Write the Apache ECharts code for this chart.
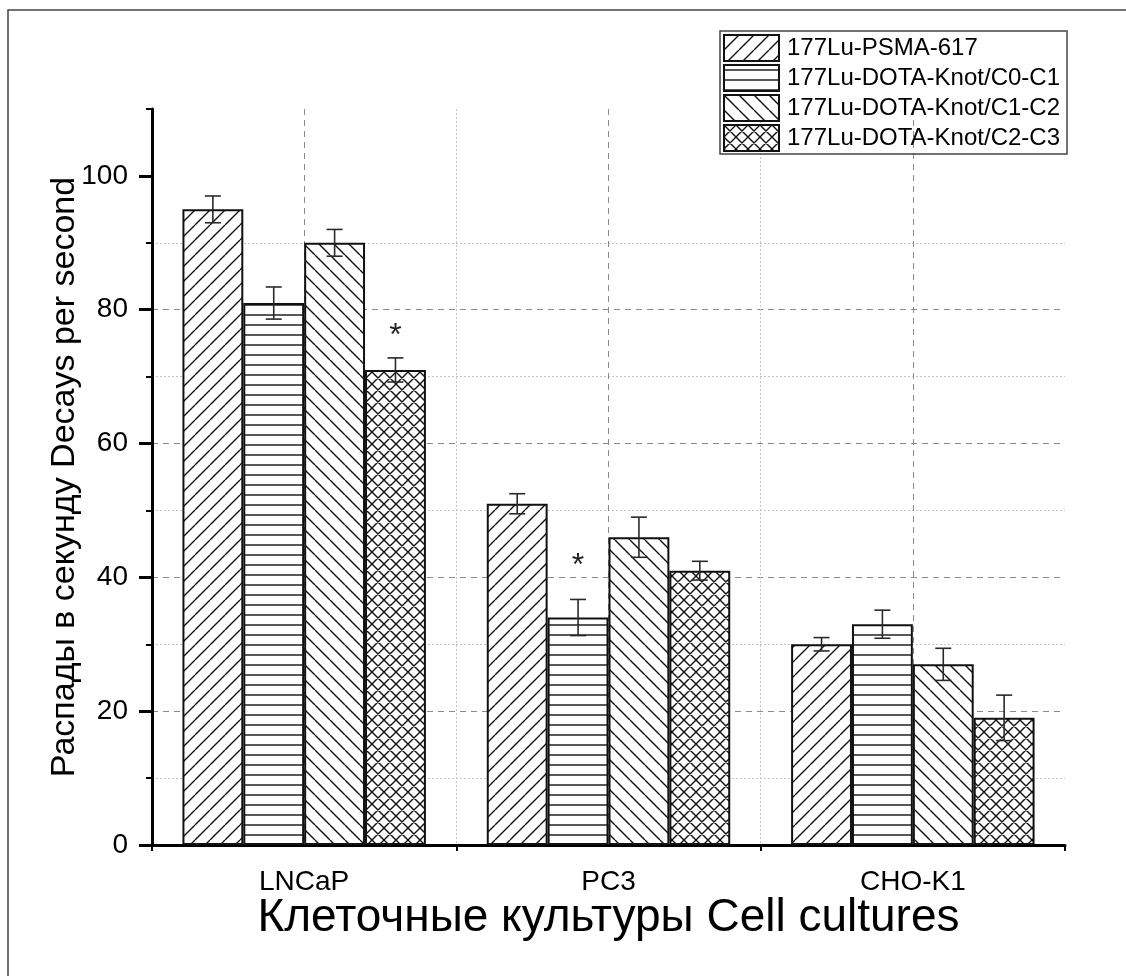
<!DOCTYPE html>
<html>
<head>
<meta charset="utf-8">
<script src="https://cdn.jsdelivr.net/npm/echarts@6/dist/echarts.min.js"></script>
<style>
  html, body { margin: 0; padding: 0; background: #fff; }
  #main { width: 1126px; height: 976px; }
</style>
</head>
<body>
<div id="main"></div>
<script type="text/javascript">
// data
var cats = ['LNCaP', 'PC3', 'CHO-K1'];
var names = ['177Lu-PSMA-617', '177Lu-DOTA-Knot/C0-C1', '177Lu-DOTA-Knot/C1-C2', '177Lu-DOTA-Knot/C2-C3'];
var psma = [95, 51, 30];
var psmaErr = [2, 1.5, 1];
var c0c1 = [81, 34, 33];
var c0c1Err = [2.4, 2.7, 2.1];
var c1c2 = [90, 46, 27];
var c1c2Err = [2, 3, 2.4];
var c2c3 = [71, 41, 19];
var c2c3Err = [1.8, 1.4, 3.4];
// significance marks: [series, category, height of the mark]
var stars = [[3, 0, 77], [1, 1, 42.5]];
var yTicks = [0, 20, 40, 60, 80, 100];
// half-band steps across the x axis (used for the grid lines between/at categories)
var halfSteps = ['0', '1', '2', '3', '4', '5', '6'];

var FONT = 'Liberation Sans, Arial, sans-serif';

// hatch fills
function hatch(kind) {
    var s = kind === 'h' ? 10 : (kind === 'x' ? 12 : 15);
    var c = document.createElement('canvas');
    c.width = s; c.height = s;
    var g = c.getContext('2d');
    g.fillStyle = '#fff';
    g.fillRect(0, 0, s, s);
    g.strokeStyle = '#111';
    g.lineWidth = 1.4;
    g.beginPath();
    if (kind === 'h') {
        g.moveTo(0, s / 2); g.lineTo(s, s / 2);
    }
    if (kind === '/' || kind === 'x') {
        for (var i = -1; i <= 1; i++) { g.moveTo(i * s, s); g.lineTo(i * s + s, 0); }
    }
    if (kind === '\\' || kind === 'x') {
        for (var j = -1; j <= 1; j++) { g.moveTo(j * s, 0); g.lineTo(j * s + s, s); }
    }
    g.stroke();
    return { image: c, repeat: 'repeat' };
}

var values = [psma, c0c1, c1c2, c2c3];
var errs = [psmaErr, c0c1Err, c1c2Err, c2c3Err];
var fills = [hatch('/'), hatch('h'), hatch('\\'), hatch('x')];

var series = [];
for (var s = 0; s < 4; s++) {
    series.push({
        name: names[s],
        type: 'bar',
        xAxisIndex: 0,
        yAxisIndex: 1,
        barGap: '0%',
        barCategoryGap: '20%',
        data: values[s],
        itemStyle: { color: fills[s], borderColor: '#111', borderWidth: 2 },
        emphasis: { disabled: true }
    });
}

// error bars + asterisks
var errData = [];
for (var k = 0; k < 4; k++) {
    for (var ci = 0; ci < cats.length; ci++) {
        var sv = -1;
        stars.forEach(function (p) { if (p[0] === k && p[1] === ci) sv = p[2]; });
        errData.push([ci, values[k][ci], errs[k][ci], k, sv]);
    }
}
series.push({
    type: 'custom',
    xAxisIndex: 0,
    yAxisIndex: 1,
    z: 5,
    silent: true,
    encode: { x: 0, y: 1 },
    data: errData,
    renderItem: function (params, api) {
        var ci = api.value(0), v = api.value(1), e = api.value(2), si = api.value(3), sv = api.value(4);
        var band = api.size([1, 0])[0];
        var bw = band * 0.8 / 4;
        var x = api.coord([ci, v])[0] + (si - 1.5) * bw;
        var top = api.coord([ci, v + e])[1];
        var bot = api.coord([ci, v - e])[1];
        var cap = 8;
        var ls = { stroke: '#2a2a2a', lineWidth: 1.6 };
        var kids = [
            { type: 'line', shape: { x1: x, y1: top, x2: x, y2: bot }, style: ls },
            { type: 'line', shape: { x1: x - cap, y1: top, x2: x + cap, y2: top }, style: ls },
            { type: 'line', shape: { x1: x - cap, y1: bot, x2: x + cap, y2: bot }, style: ls }
        ];
        if (sv >= 0) {
            kids.push({
                type: 'text',
                style: { text: '*', x: x, y: api.coord([ci, sv])[1] + 6, align: 'center', verticalAlign: 'middle',
                    fontSize: 32, fontFamily: FONT, fill: '#222' }
            });
        }
        return { type: 'group', children: kids };
    }
});

var chart = echarts.init(document.getElementById('main'));
chart.setOption({
    backgroundColor: '#fff',
    animation: false,
    textStyle: { fontFamily: FONT },
    grid: { left: 152, right: 61, top: 109, bottom: 131 },
    legend: {
        data: names,
        orient: 'vertical',
        right: 59,
        top: 31,
        icon: 'rect',
        itemWidth: 55,
        itemHeight: 26,
        itemGap: 2,
        padding: [3, 7, 2, 3],
        borderColor: '#444',
        borderWidth: 1.5,
        selectedMode: false,
        textStyle: { fontSize: 24, lineHeight: 28, color: '#000', fontFamily: FONT, padding: [0, 0, 0, 3] }
    },
    xAxis: [
        {
            type: 'category',
            data: cats,
            position: 'bottom',
            axisLine: { onZero: false, lineStyle: { color: '#000', width: 3 } },
            axisTick: { alignWithLabel: true, length: 12, lineStyle: { color: '#000', width: 2.5 } },
            axisLabel: { fontSize: 28, color: '#000', margin: 23 },
            splitLine: { show: false },
            name: 'Клеточные культуры Cell cultures',
            nameLocation: 'middle',
            nameMoveOverlap: false,
            nameGap: 50,
            nameTextStyle: { fontSize: 46, color: '#000' }
        },
        {
            // dashed lines at category centres
            type: 'category', data: halfSteps, boundaryGap: false, position: 'bottom',
            axisLine: { show: false, onZero: false }, axisTick: { show: false }, axisLabel: { show: false },
            splitLine: { show: true, interval: function (i) { return i % 2 === 1; },
                lineStyle: { type: [6, 5], color: '#8a8a8a', width: 1 } }
        },
        {
            // dotted lines + short ticks at category boundaries
            type: 'category', data: halfSteps, boundaryGap: false, position: 'bottom',
            axisLine: { show: false, onZero: false },
            axisTick: { show: true, length: 6, interval: function (i) { return i % 2 === 0; },
                lineStyle: { color: '#000', width: 2 } },
            axisLabel: { show: false },
            splitLine: { show: true, interval: function (i) { return i === 2 || i === 4; },
                lineStyle: { type: [2, 2], color: '#c4c4c4', width: 1 } }
        }
    ],
    yAxis: [
        {
            type: 'value', min: 0, max: 110, interval: 10, position: 'left',
            axisLine: { show: false, onZero: false },
            axisTick: { show: true, length: 6, lineStyle: { color: '#000', width: 2 } },
            axisLabel: { show: false },
            splitLine: { show: false }
        },
        {
            type: 'value', min: 0, max: 110, interval: 20, position: 'left',
            axisLine: { show: true, onZero: false, lineStyle: { color: '#000', width: 3 } },
            axisTick: { show: true, length: 13, customValues: yTicks, lineStyle: { color: '#000', width: 3 } },
            axisLabel: { fontSize: 28, color: '#000', margin: 24, customValues: yTicks },
            splitLine: { show: true, showMinLine: false, showMaxLine: false,
                lineStyle: { type: [6, 5], color: '#8a8a8a', width: 1 } },
            minorTick: { show: false, splitNumber: 2 },
            minorSplitLine: { show: true, lineStyle: { type: [2, 2], color: '#c4c4c4', width: 1 } },
            name: 'Распады в секунду Decays per second',
            nameLocation: 'middle',
            nameMoveOverlap: false,
            nameGap: 70,
            nameTextStyle: { fontSize: 34, color: '#000' }
        }
    ],
    graphic: [
        {
            type: 'polyline',
            shape: { points: [[8, 976], [8, 10], [1126, 10]] },
            style: { stroke: '#444', lineWidth: 1.5, fill: null },
            silent: true
        }
    ],
    series: series
});
</script>
</body>
</html>
